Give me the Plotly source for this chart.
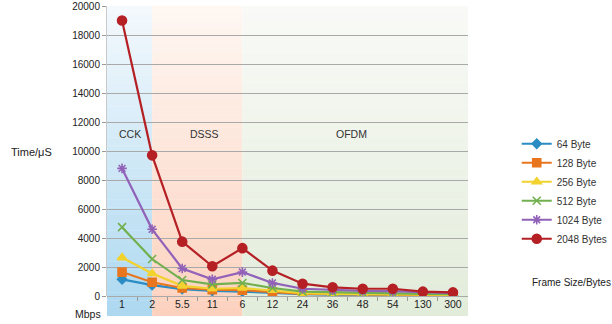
import plotly.graph_objects as go

rates = ["1", "2", "5.5", "11", "6", "12", "24", "36", "48", "54", "130", "300"]
series_names = ["64 Byte", "128 Byte", "256 Byte", "512 Byte", "1024 Byte", "2048 Bytes"]
v64 = [1150, 750, 480, 350, 300, 200, 120, 100, 80, 70, 50, 40]
v128 = [1650, 950, 550, 430, 400, 280, 150, 120, 100, 90, 70, 60]
v256 = [2650, 1550, 700, 500, 550, 400, 200, 150, 130, 120, 100, 80]
v512 = [4750, 2550, 1100, 800, 900, 550, 300, 250, 220, 200, 150, 120]
v1024 = [8800, 4600, 1900, 1150, 1650, 900, 500, 400, 350, 330, 250, 200]
v2048 = [19000, 9700, 3750, 2050, 3300, 1750, 850, 600, 500, 500, 300, 250]
values = [v64, v128, v256, v512, v1024, v2048]
colors = ["#2b8cc4", "#e8761f", "#f2d22e", "#72b04f", "#9162b8", "#b52025"]
symbols = ["diamond", "square", "triangle-up", "x-thin-open", "asterisk-open", "circle"]
sizes = [7, 8, 8, 8, 8, 9]

xs = list(range(len(rates)))
fig = go.Figure()
for name, v, c, s, sz in zip(series_names, values, colors, symbols, sizes):
    fig.add_trace(go.Scatter(
        x=xs, y=v, name=name, mode="lines+markers",
        line=dict(color=c, width=2.2),
        marker=dict(symbol=s, size=sz, color=c, line=dict(color=c, width=1.6)),
    ))

# gradient bands (stacked strips)
def lerp(a, b, t):
    return tuple(int(round(a[i] + (b[i] - a[i]) * t)) for i in range(3))

bands = [
    (-0.5, 1, (244, 249, 253), (172, 216, 240)),
    (1, 4, (254, 247, 243), (252, 210, 190)),
    (4, 11.5, (249, 250, 247), (226, 236, 218)),
]
shapes = []
N = 40
y_top, y_bot = 1.0, -0.069
for x0, x1, ctop, cbot in bands:
    for i in range(N):
        t = (i + 0.5) / N
        c = lerp(ctop, cbot, t)
        ya = y_top + (y_bot - y_top) * i / N
        yb = y_top + (y_bot - y_top) * (i + 1) / N
        shapes.append(dict(type="rect", xref="x", yref="paper", x0=x0, x1=x1,
                           y0=yb, y1=ya + 0.0005, layer="below", line=dict(width=0),
                           fillcolor="rgb(%d,%d,%d)" % c))

font = "Liberation Sans, Arial, sans-serif"
annotations = [
    dict(text="Time/μS", xref="paper", yref="paper", x=-0.21, y=0.495, xanchor="center",
         showarrow=False, font=dict(size=11, color="#222")),
    dict(text="Mbps", xref="paper", yref="paper", x=-0.052, y=-0.062, xanchor="center", yanchor="middle",
         showarrow=False, font=dict(size=10.5, color="#222")),
    dict(text="Frame Size/Bytes", xref="paper", yref="paper", x=1.288, y=0.048, xanchor="center", yanchor="middle",
         showarrow=False, font=dict(size=10, color="#222")),
    dict(text="CCK", xref="x", yref="y", x=0.27, y=11170, showarrow=False, font=dict(size=10.5, color="#333")),
    dict(text="DSSS", xref="x", yref="y", x=2.73, y=11170, showarrow=False, font=dict(size=10.5, color="#333")),
    dict(text="OFDM", xref="x", yref="y", x=7.63, y=11170, showarrow=False, font=dict(size=10.5, color="#333")),
]

fig.update_layout(
    width=612, height=324,
    margin=dict(l=107, r=144, t=6, b=28, autoexpand=False),
    paper_bgcolor="white", plot_bgcolor="rgba(0,0,0,0)",
    font=dict(family=font, size=10, color="#222"),
    shapes=shapes, annotations=annotations,
    showlegend=True,
    legend=dict(x=1.135, y=0.575, xanchor="left", yanchor="top", font=dict(size=10, color="#333"),
                bgcolor="rgba(0,0,0,0)", itemwidth=30, tracegroupgap=0),
    xaxis=dict(range=[-0.5, 11.5], tickvals=xs, ticktext=rates, showgrid=False, zeroline=False,
               showline=False, ticks="", tickfont=dict(size=10.5, color="#222"),
               minor=dict(tickvals=[i + 0.5 for i in xs[:-1]], ticks="outside", ticklen=4, tickcolor="#999")),
    yaxis=dict(range=[0, 20000], dtick=2000, tickformat="d", showgrid=True, gridcolor="#a9a9a9", gridwidth=1.4,
               zeroline=True, zerolinecolor="#a9a9a9", zerolinewidth=1.4, showline=True, linecolor="#c9c9c9", linewidth=1,
               ticks="outside", ticklen=4, tickcolor="#999", tickfont=dict(size=10, color="#222")),
)
fig.write_html("out.html")
